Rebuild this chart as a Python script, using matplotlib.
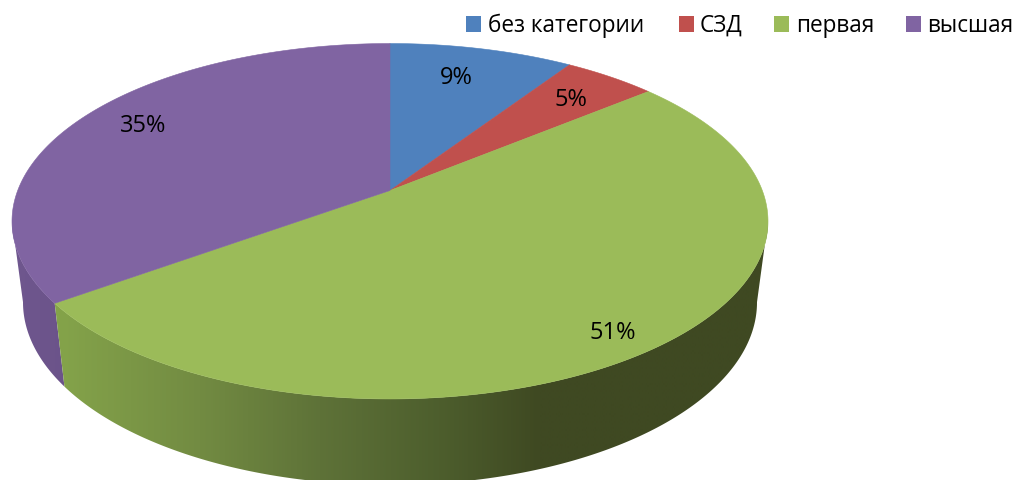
# -*- coding: utf-8 -*-
import numpy as np
import matplotlib
matplotlib.use("Agg")
import matplotlib.pyplot as plt
from matplotlib.colors import LinearSegmentedColormap, to_rgb
from matplotlib.patches import Polygon, Rectangle

# data
categories = ["без категории", "СЗД", "первая", "высшая"]
shares = [9.3, 4.7, 51, 35]

# styles
colors = ["#4F81BD", "#C0504D", "#9BBB59", "#8064A2"]
label_pos = [(456.5, 77.5), (571, 99.5), (613, 333), (143, 126)]
legend_box_x = [466, 679, 774, 906]
legend_text_x = [488, 700, 796, 927]

# side wall shading, x in pixels -> colour
green_x = [40, 60, 200, 320, 440, 540, 770]
green_side = ["#84A34A", "#84A34A", "#728B42", "#5E7238", "#4D5E2D", "#3F4922", "#3F4922"]
purple_x = [10, 70]
purple_side = ["#6F578F", "#6B5389"]

# geometry of the tilted disc (pixels)
apex_x, apex_y = 390, 191.5
k = 0.173
sx, sy = 372.3, 172.4
ell_cy, ell_ry, ell_rx = 222, 178, 378
low_cy, low_ry, low_rx = 303, 183, 367

plt.rcParams["font.family"] = ["Open Sans", "DejaVu Sans"]


def top_xy(theta):
    """Point of the upper rim, theta clockwise from 12 o'clock (true pie angle)."""
    X, Y = np.sin(theta), np.cos(theta)
    w = 1 + k * Y
    return apex_x + sx * X / w, apex_y - sy * Y / w


def low_xy(x, y):
    """Same rim point moved down to the lower rim."""
    return apex_x + (x - apex_x) * low_rx / ell_rx, low_cy + (y - ell_cy) * low_ry / ell_ry


def side_wall(ax, th, stops, cols):
    """Horizontal gradient clipped to the wall between the two rims."""
    x0, y0 = top_xy(th)
    x1, y1 = low_xy(x0, y0)
    pts = np.column_stack([np.r_[x0, x1[::-1]], np.r_[y0, y1[::-1]]])
    clip = Polygon(pts, closed=True, facecolor="none", edgecolor="none", transform=ax.transData)
    ax.add_patch(clip)
    lo, hi = stops[0], stops[-1]
    pos = [(s - lo) / (hi - lo) for s in stops]
    cmap = LinearSegmentedColormap.from_list("side", list(zip(pos, [to_rgb(c) for c in cols])))
    grad = np.linspace(0, 1, 512).reshape(1, -1)
    im = ax.imshow(grad, cmap=cmap, extent=[lo, hi, 490, 0], aspect="auto", zorder=1,
                   interpolation="bilinear")
    im.set_clip_path(clip)


fig = plt.figure(figsize=(10.13, 4.81), dpi=100)
ax = fig.add_axes([0, 0, 1, 1])

edges = np.cumsum([0] + shares) / sum(shares) * 2 * np.pi
fine = np.linspace(0, 2 * np.pi, 4000)
fx, _ = top_xy(fine)
th_right = fine[np.argmax(fx)]
th_left = fine[np.argmin(fx)]

# side wall first, only the two slices that face the viewer
side_wall(ax, np.linspace(th_left, edges[3], 400)[::-1], purple_x, purple_side)
side_wall(ax, np.linspace(th_right, edges[3], 600), green_x, green_side)

# top faces
for i in range(len(shares)):
    th = np.linspace(edges[i], edges[i + 1], 300)
    x, y = top_xy(th)
    pts = np.column_stack([np.r_[apex_x, x], np.r_[apex_y, y]])
    ax.add_patch(Polygon(pts, closed=True, facecolor=colors[i], edgecolor=colors[i],
                         linewidth=0.4, zorder=2))

# percent labels
for val, (px, py) in zip(shares, label_pos):
    ax.text(px, py, f"{val:.0f}%", ha="center", va="center", fontsize=17, color="black", zorder=3)

# legend
for name, c, bx, tx in zip(categories, colors, legend_box_x, legend_text_x):
    ax.add_patch(Rectangle((bx, 17), 15, 16, facecolor=c, edgecolor="none"))
    ax.text(tx, 25.5, name, ha="left", va="center", fontsize=16.3, color="black")

ax.set_xlim(0, 1013)
ax.set_ylim(481, 0)
ax.axis("off")

fig.savefig("out.png", dpi=100)
